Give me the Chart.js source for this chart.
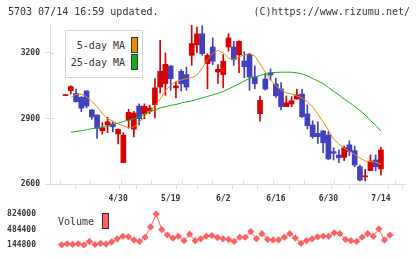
<!DOCTYPE html>
<html>
<head>
<meta charset="utf-8">
<script src="https://cdn.jsdelivr.net/npm/chart.js@4.4.1/dist/chart.umd.min.js"></script>
<style>
  body { margin: 0; background: #fff; }
  #wrap { position: relative; width: 420px; height: 259px; overflow: hidden;
          font-family: "DejaVu Sans Mono", monospace; font-size: 10px; color: #333; }
  canvas { position: absolute; left: 0; }
  .txt { position: absolute; line-height: 12px; white-space: nowrap; }
  .box { position: absolute; box-sizing: border-box; }
</style>
</head>
<body>
<div id="wrap">
  <canvas id="precio" width="420" height="210" style="top:0"></canvas>
  <canvas id="volumen" width="420" height="59" style="top:200px"></canvas>

  <div class="txt" style="left:8px; top:6px">5703 07/14 16:59 updated.</div>
  <div class="txt" style="right:10px; top:6px">(C)https://www.rizumu.net/</div>

  <div class="box" style="left:65px; top:30px; width:78px; height:48px; border:1px solid #d4d4d4; background:#fff"></div>
  <div class="txt" style="right:295px; top:40px">5-day MA</div>
  <div class="box" style="left:131px; top:37px; width:7px; height:16px; border:1px solid #333; background:#f08c00"></div>
  <div class="txt" style="right:295px; top:57px">25-day MA</div>
  <div class="box" style="left:131px; top:54px; width:7px; height:16px; border:1px solid #333; background:#1aaa1a"></div>

  <div class="txt" style="left:58px; top:216px">Volume</div>
  <div class="box" style="left:102px; top:213px; width:7px; height:16px; border:1px solid #333; background:#ff6060"></div>
</div>

<script>
const dates = ['4/15','4/16','4/17','4/18','4/21','4/22','4/23','4/24','4/25','4/28',
  '4/30','5/1','5/7','5/8','5/9','5/12','5/13','5/14','5/15','5/16',
  '5/19','5/20','5/21','5/22','5/23','5/26','5/27','5/28','5/29','5/30',
  '6/2','6/3','6/4','6/5','6/6','6/9','6/10','6/11','6/12','6/13',
  '6/16','6/17','6/18','6/19','6/20','6/23','6/24','6/25','6/26','6/27',
  '6/30','7/1','7/2','7/3','7/4','7/7','7/8','7/9','7/10','7/11','7/14'];
const dateLabels = ['4/30','5/19','6/2','6/16','6/30','7/14'];

const open  = [3005,3027,3015,2997,3026,2939,2916,2844,2870,2875,2829,2698,2893,2851,2957,2922,2934,2963,3044,3060,
  3140,3040,3116,3101,3189,3237,3288,3151,3227,3113,3101,3227,3227,3192,3163,3194,3090,2922,3081,3110,
  3058,3035,2954,2966,2989,3012,2921,2870,2832,2843,2824,2748,2733,2722,2779,2753,2679,2633,2661,2710,2669];
const high  = [3008,3050,3035,3000,3027,2940,2916,2881,2905,2885,2852,2835,2942,2933,2967,2967,2960,3083,3258,3200,
  3142,3067,3124,3135,3327,3318,3324,3197,3269,3147,3192,3288,3253,3255,3205,3197,3140,3003,3107,3127,
  3084,3064,3003,3000,3034,3035,2962,2889,2885,2845,2840,2766,2756,2774,2798,2774,2687,2667,2733,2733,2768];
const low   = [3005,3012,2975,2931,2949,2896,2809,2828,2835,2838,2783,2698,2855,2815,2869,2899,2922,2902,3017,3006,
  3029,2994,3026,3029,3143,3201,3189,3036,3147,3060,3040,3208,3143,3110,3086,3029,3036,2888,3030,3076,
  2996,2939,2954,2954,2989,2905,2852,2809,2786,2743,2712,2710,2698,2707,2730,2679,2614,2614,2661,2660,2641];
const close = [3008,3046,2977,2947,2957,2907,2855,2858,2885,2862,2850,2824,2928,2925,2899,2956,2948,3040,3116,3148,
  3082,3049,3059,3044,3243,3287,3197,3189,3162,3125,3162,3269,3169,3253,3137,3090,3059,2983,3035,3099,
  3004,2954,2972,2981,3008,2908,2867,2817,2817,2789,2715,2741,2720,2766,2748,2687,2618,2637,2705,2679,2756];

const ma5 = [null,2995,3011,3011,3000,2978,2953,2923,2898,2889,2875,2866,2858,2861,2884,2907,2934,2957,2989,3026,
  3053,3069,3076,3083,3087,3098,3131,3170,3198,3212,3200,3177,3170,3182,3191,3197,3186,3150,3113,3076,
  3049,3031,3017,3012,3003,2994,2976,2953,2921,2884,2847,2806,2783,2765,2749,2735,2719,2705,2702,2700,2690];
const ma25 = [null,2837,2840,2844,2848,2854,2856,2859,2863,2872,2879,2886,2892,2898,2907,2919,2931,2940,2948,2954,
  2960,2964,2971,2976,2980,2987,2994,3001,3008,3015,3024,3035,3047,3058,3072,3082,3090,3097,3104,3108,
  3111,3112,3112,3112,3109,3104,3095,3083,3072,3060,3042,3024,3008,2989,2973,2955,2937,2916,2891,2868,2843];
const volume = [null,150000,174000,160000,174000,145000,225000,157000,184000,167000,213000,281000,337000,326000,258000,225000,315000,540000,824000,484000,
  365000,298000,337000,241000,383000,241000,281000,337000,354000,309000,281000,269000,225000,315000,315000,439000,281000,394000,269000,258000,
  258000,315000,394000,298000,184000,241000,281000,326000,337000,337000,411000,394000,269000,241000,225000,315000,394000,337000,496000,258000,365000];

const priceTicks = [2600, 2900, 3200];
const volumeTicks = [144800, 484400, 824000];

const xMin = -1.08, xMax = 62.7;
const gris = '#dcdcdc';
const fuente = { family: 'DejaVu Sans Mono', size: 8, weight: 'bold' };

// marcas de la cuadricula del eje x (11 divisiones iguales)
const marcasX = [];
for (let k = 0; k <= 11; k++) marcasX.push(xMin + k * (xMax - xMin) / 11);
const etiquetasX = dateLabels.map(d => dates.indexOf(d));

const colores = close.map((c, i) => c >= open[i] ? '#d80000' : '#4040c0');
const mechas = dates.map((d, i) => ({ x: i, y: [low[i], high[i]] }));
const cuerpos = dates.map((d, i) => ({ x: i, y: [open[i], close[i]] }));
const puntos = arr => arr.map((v, i) => ({ x: i, y: v })).filter(p => p.y !== null);

// parte de las marcas que entra en el area del grafico
const marcasInternas = {
  id: 'marcasInternas',
  beforeDatasetsDraw(chart) {
    const { ctx, chartArea, scales } = chart;
    ctx.save();
    ctx.strokeStyle = gris;
    ctx.lineWidth = 1;
    priceTicks.forEach(v => {
      const py = Math.round(scales.y.getPixelForValue(v)) + 0.5;
      ctx.beginPath(); ctx.moveTo(chartArea.left, py); ctx.lineTo(chartArea.left + 4, py); ctx.stroke();
    });
    marcasX.forEach(v => {
      const px = Math.round(scales.x.getPixelForValue(v)) + 0.5;
      ctx.beginPath(); ctx.moveTo(px, chartArea.bottom); ctx.lineTo(px, chartArea.bottom - 4); ctx.stroke();
    });
    ctx.restore();
  }
};

new Chart(document.getElementById('precio'), {
  type: 'bar',
  data: {
    datasets: [
      { type: 'line', data: puntos(ma5), borderColor: '#f08c00', borderWidth: 1, pointRadius: 0, order: 1 },
      { type: 'line', data: puntos(ma25), borderColor: '#1aaa1a', borderWidth: 1, pointRadius: 0, order: 1 },
      { type: 'bar', data: cuerpos, backgroundColor: colores, barThickness: 5, minBarLength: 1, grouped: false, order: 2 },
      { type: 'bar', data: mechas, backgroundColor: colores, barThickness: 1, grouped: false, order: 3 }
    ]
  },
  options: {
    responsive: false,
    animation: false,
    layout: { padding: { top: 25, right: 15, left: 0, bottom: 0 } },
    plugins: { legend: { display: false }, tooltip: { enabled: false } },
    scales: {
      x: {
        type: 'linear', min: xMin, max: xMax,
        afterBuildTicks: s => { s.ticks = marcasX.concat(etiquetasX).sort((a, b) => a - b).map(v => ({ value: v })); },
        afterFit: s => { s.height = 26; },
        ticks: {
          autoSkip: false, maxRotation: 0, padding: 5, color: '#333', font: fuente,
          callback: v => etiquetasX.includes(v) ? dates[v] : ''
        },
        grid: {
          drawOnChartArea: false, tickLength: 5,
          color: c => c.tick && etiquetasX.includes(c.tick.value) ? 'rgba(0,0,0,0)' : gris
        },
        border: { color: gris }
      },
      y: {
        min: 2600, max: 3328,
        afterBuildTicks: s => { s.ticks = priceTicks.map(v => ({ value: v })); },
        afterFit: s => { s.width = 50; },
        ticks: { padding: 5, color: '#333', font: fuente, callback: v => String(v) },
        grid: { drawOnChartArea: false, tickLength: 5, color: gris },
        border: { color: gris }
      }
    }
  },
  plugins: [marcasInternas]
});

new Chart(document.getElementById('volumen'), {
  type: 'line',
  data: {
    datasets: [{
      data: puntos(volume), borderColor: '#ff6060', backgroundColor: '#ff6060', borderWidth: 1,
      pointStyle: 'rectRot', pointRadius: 3.6, pointBorderWidth: 0
    }]
  },
  options: {
    responsive: false,
    animation: false,
    layout: { padding: { top: 5, right: 15, left: 0, bottom: 6 } },
    plugins: { legend: { display: false }, tooltip: { enabled: false } },
    scales: {
      x: { type: 'linear', min: xMin, max: xMax, display: false },
      y: {
        min: 76880, max: 891920,
        afterBuildTicks: s => { s.ticks = volumeTicks.map(v => ({ value: v })); },
        afterFit: s => { s.width = 50; },
        ticks: { padding: 6, color: '#333', font: fuente, callback: v => String(v) },
        grid: { display: false },
        border: { display: false }
      }
    }
  }
});
</script>
</body>
</html>
